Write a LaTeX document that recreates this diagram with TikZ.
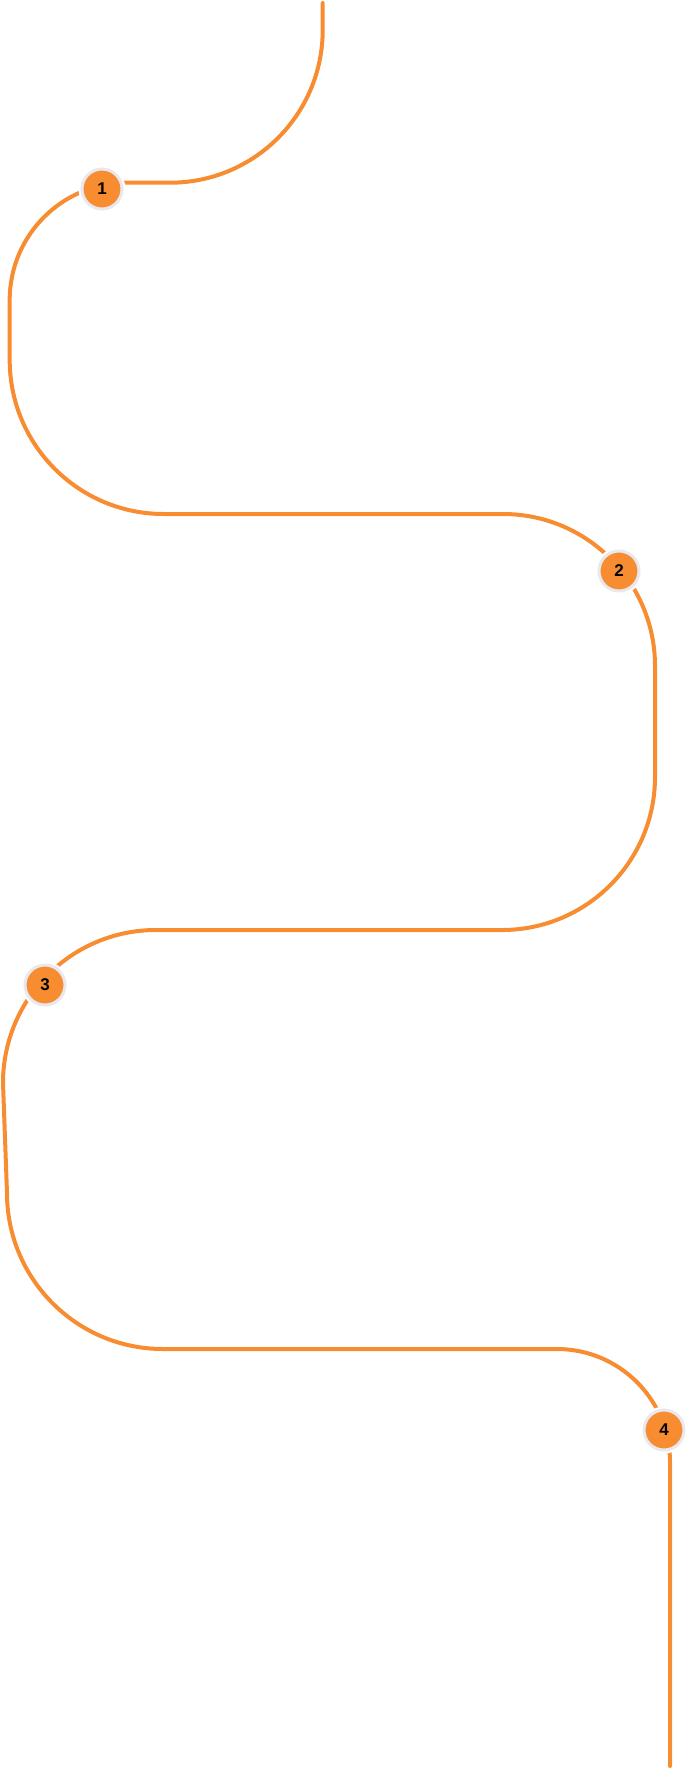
\documentclass[tikz,border=0pt]{standalone}
\usepackage{fontspec}
\setmainfont{Liberation Sans}
\definecolor{routeorange}{RGB}{247,140,48}
\definecolor{ringgray}{RGB}{232,232,238}
\tikzset{
  route/.style={draw=routeorange, line width=4pt, line cap=round, line join=round},
  stepdot/.style={circle, inner sep=0pt, minimum size=40pt, fill=routeorange,
    draw=ringgray, line width=3pt,
    preaction={draw=white, line width=7pt},
    font=\fontsize{17}{17}\selectfont\bfseries, text=black}
}
\begin{document}
\begin{tikzpicture}[x=1pt, y=-1pt]
\useasboundingbox (0,0) rectangle (689,1770);
\coordinate (top) at (322.7,3);
\coordinate (bot) at (670,1766);
\draw[route] (top) -- (322.7,30) arc[start angle=0, end angle=90, radius=152.7]
  -- (127,182.7) arc[start angle=-90, end angle=-180, radius=117.3]
  -- (9.7,360) arc[start angle=180, end angle=90, radius=154]
  -- (503,514) arc[start angle=-90, end angle=0, radius=152]
  -- (655,777) arc[start angle=0, end angle=90, radius=153]
  -- (156,930) arc[start angle=-90, end angle=-180, radius=153]
  -- (7,1193) arc[start angle=180, end angle=90, radius=156]
  -- (557,1349) arc[start angle=-90, end angle=0, radius=113]
  -- (bot);
\node[stepdot] (n1) at (102,189) {1};
\node[stepdot] (n2) at (619,571) {2};
\node[stepdot] (n3) at (45,985) {3};
\node[stepdot] (n4) at (664,1430) {4};
\end{tikzpicture}
\end{document}
